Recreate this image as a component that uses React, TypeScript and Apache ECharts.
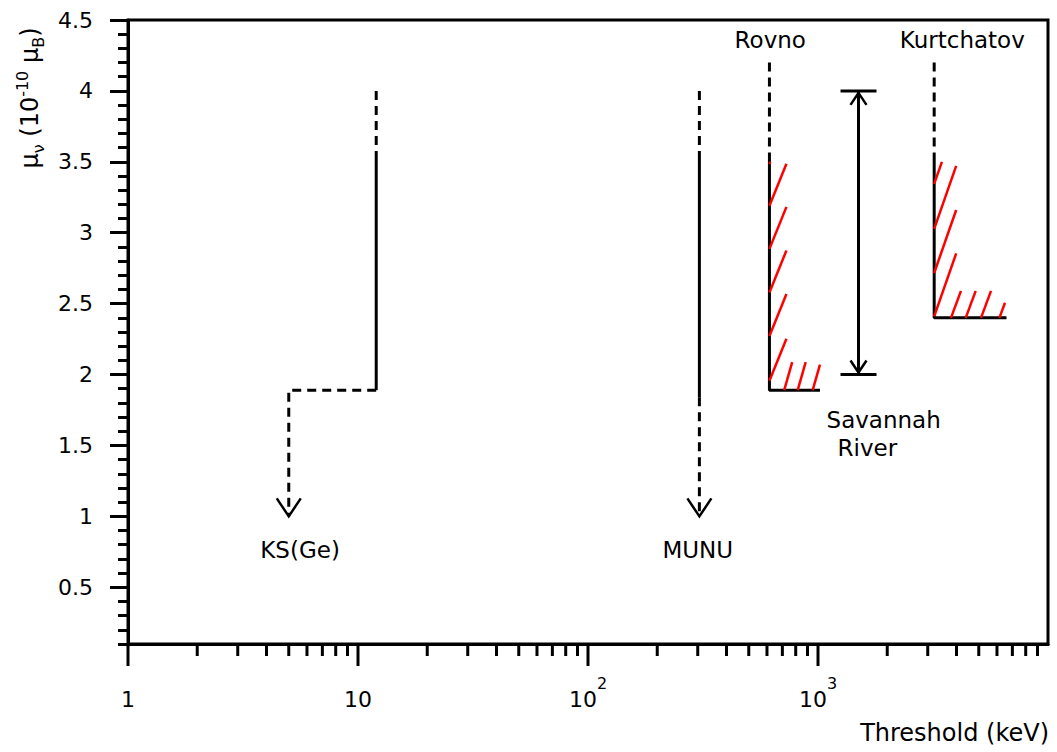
import React, { useEffect, useRef } from 'react';
import * as echarts from 'echarts';

const FONT = 'DejaVu Sans';
const Y_MIN = 0.1;
const Y_MAX = 4.5;
const X_MIN = 1;
const X_MAX = 10000;

// tick values
const yMajorTicks = [0.5, 1, 1.5, 2, 2.5, 3, 3.5, 4, 4.5];
const xMajorTicks = [1, 10, 100, 1000];
const xMinorTicks = [
  2, 3, 4, 5, 6, 7, 8, 9,
  20, 30, 40, 50, 60, 70, 80, 90,
  200, 300, 400, 500, 600, 700, 800, 900,
  2000, 3000, 4000, 5000, 6000, 7000, 8000, 9000,
];

// KS(Ge)
const ksDashedTop = [[12, 4.0], [12, 3.57]];
const ksSolid = [[12, 3.57], [12, 1.89]];
const ksDashedStep = [[12, 1.89], [5, 1.89], [5, 1.0]];
// MUNU
const munuDashedTop = [[305, 4.0], [305, 3.57]];
const munuSolid = [[305, 3.57], [305, 1.84]];
const munuDashedBottom = [[305, 1.84], [305, 1.0]];
// arrow tips of the two upper limits
const limitArrowTips = [[5, 1.0], [305, 1.0]];

// Rovno
const rovnoDashed = [[615, 4.2], [615, 3.52]];
const rovnoSolid = [[615, 3.52], [615, 1.89], [1020, 1.89]];
const rovnoHatchWall = [[615, 3.485], [615, 3.19], [615, 2.886], [615, 2.579], [615, 2.272], [615, 1.956]];
const rovnoHatchFloor = [[713, 1.89], [816, 1.89], [948, 1.89]];

// Kurtchatov
const kurtDashed = [[3200, 4.2], [3200, 3.52]];
const kurtSolid = [[3200, 3.52], [3200, 2.4], [6600, 2.4]];
const kurtHatchWall = [[3200, 3.344], [3200, 3.027], [3200, 2.716], [3200, 2.41]];
const kurtHatchFloor = [[3786, 2.4], [4387, 2.4], [5114, 2.4], [6148, 2.4]];

// Savannah River range [x, low, high]
const savannahRange = [[1500, 2.0, 4.0]];

// annotation labels
const annotationLabels = [
  { name: 'KS(Ge)', value: [5.6, 0.76] },
  { name: 'MUNU', value: [300, 0.76] },
  { name: 'Rovno', value: [620, 4.36] },
  { name: 'Kurtchatov', value: [4240, 4.36] },
  { name: 'Savannah', value: [1930, 1.68] },
  { name: 'River', value: [1640, 1.48] },
];

const BLACK = '#000000';
const RED = '#ff0000';

function lineSeries(data: number[][], dashed: boolean) {
  return {
    type: 'line',
    data,
    symbol: 'none',
    silent: true,
    z: 2,
    lineStyle: { color: BLACK, width: 3, type: dashed ? [9, 6] : 'solid' },
  };
}

function hatchSeries(data: number[][], dx: number, dy: number, clipTop: number, clipRight: number) {
  return {
    type: 'custom',
    data,
    encode: { x: 0, y: 1 },
    silent: true,
    z: 4,
    renderItem: (params: any, api: any) => {
      const p = api.coord([api.value(0), api.value(1)]);
      const topPx = api.coord([api.value(0), clipTop])[1];
      const rightPx = api.coord([clipRight, api.value(1)])[0];
      let t = 1;
      if (p[1] + dy < topPx) t = Math.min(t, (topPx - p[1]) / dy);
      if (p[0] + dx > rightPx) t = Math.min(t, (rightPx - p[0]) / dx);
      return {
        type: 'line',
        shape: { x1: p[0], y1: p[1], x2: p[0] + dx * t, y2: p[1] + dy * t },
        style: { stroke: RED, lineWidth: 2.5 },
      };
    },
  };
}

function xTickSeries(values: number[], len: number) {
  return {
    type: 'custom',
    data: values.map((v) => [v, Y_MIN]),
    encode: { x: 0, y: 1 },
    silent: true,
    clip: false,
    z: 5,
    renderItem: (params: any, api: any) => {
      const p = api.coord([api.value(0), api.value(1)]);
      return {
        type: 'line',
        shape: { x1: p[0], y1: p[1], x2: p[0], y2: p[1] + len },
        style: { stroke: BLACK, lineWidth: 3 },
      };
    },
  };
}

export default function App() {
  const ref = useRef<HTMLDivElement>(null);

  useEffect(() => {
    if (!ref.current) return;
    const chart = echarts.init(ref.current, undefined, { renderer: 'svg' });

    const option: any = {
      animation: false,
      backgroundColor: '#ffffff',
      grid: {
        left: 128,
        right: 9,
        top: 20,
        bottom: 108,
        show: true,
        borderColor: BLACK,
        borderWidth: 3,
        backgroundColor: 'transparent',
      },
      xAxis: {
        type: 'log',
        logBase: 10,
        min: X_MIN,
        max: X_MAX,
        axisLine: { show: true, lineStyle: { color: BLACK, width: 3 } },
        axisTick: { show: false },
        splitLine: { show: false },
        axisLabel: {
          margin: 31,
          color: BLACK,
          fontFamily: FONT,
          fontSize: 22,
          formatter: (v: number) => {
            const e = Math.round(Math.log10(v));
            if (e === 0) return '{b|1}';
            if (e === 1) return '{b|10}';
            if (e >= 4) return '';
            return '{b|10}{sup|' + e + '}';
          },
          rich: {
            b: { fontFamily: FONT, fontSize: 22, color: BLACK, padding: [13, 0, 0, 0], verticalAlign: 'bottom' },
            sup: { fontFamily: FONT, fontSize: 16, color: BLACK, verticalAlign: 'top' },
          },
        },
      },
      yAxis: [
        {
          type: 'value',
          min: Y_MIN,
          max: Y_MAX,
          position: 'left',
          axisLine: { show: true, onZero: false, lineStyle: { color: BLACK, width: 3 } },
          axisTick: { show: true, length: 18, customValues: yMajorTicks, lineStyle: { color: BLACK, width: 3 } },
          axisLabel: { customValues: yMajorTicks, margin: 35, color: BLACK, fontFamily: FONT, fontSize: 22 },
          splitLine: { show: false },
        },
        {
          type: 'value',
          min: Y_MIN,
          max: Y_MAX,
          interval: 0.1,
          position: 'left',
          axisLine: { show: false },
          axisTick: { show: true, length: 10, lineStyle: { color: BLACK, width: 3 } },
          axisLabel: { show: false },
          splitLine: { show: false },
        },
      ],
      graphic: [
        {
          type: 'text',
          x: 30,
          y: 98,
          rotation: Math.PI / 2,
          style: {
            text: '{m|μ}{sub|ν}{m| (10}{sup|-10}{m| μ}{sub|B}{m|)}',
            align: 'center',
            verticalAlign: 'middle',
            fill: BLACK,
            rich: {
              m: { fontFamily: FONT, fontSize: 24, fill: BLACK, padding: [4, 0, 4, 0], verticalAlign: 'middle' },
              sup: { fontFamily: FONT, fontSize: 16, fill: BLACK, verticalAlign: 'top' },
              sub: { fontFamily: FONT, fontSize: 16, fill: BLACK, verticalAlign: 'bottom' },
            },
          },
        },
        {
          type: 'text',
          x: 1049,
          y: 733,
          style: {
            text: 'Threshold (keV)',
            align: 'right',
            verticalAlign: 'middle',
            fill: BLACK,
            fontFamily: FONT,
            fontSize: 24,
          },
        },
      ],
      series: [
        lineSeries(ksDashedTop, true),
        lineSeries(ksSolid, false),
        lineSeries(ksDashedStep, true),
        lineSeries(munuDashedTop, true),
        lineSeries(munuSolid, false),
        lineSeries(munuDashedBottom, true),
        lineSeries(rovnoDashed, true),
        lineSeries(rovnoSolid, false),
        lineSeries(kurtDashed, true),
        lineSeries(kurtSolid, false),
        hatchSeries(rovnoHatchWall, 17, -42, 3.5, 1020),
        hatchSeries(rovnoHatchFloor, 8, -28, 3.5, 1020),
        hatchSeries(kurtHatchWall, 22, -63, 3.5, 6600),
        hatchSeries(kurtHatchFloor, 10, -27, 3.5, 6500),
        {
          type: 'custom',
          data: limitArrowTips,
          encode: { x: 0, y: 1 },
          silent: true,
          z: 3,
          renderItem: (params: any, api: any) => {
            const p = api.coord([api.value(0), api.value(1)]);
            return {
              type: 'polyline',
              shape: { points: [[p[0] - 12, p[1] - 18], [p[0], p[1]], [p[0] + 12, p[1] - 18]] },
              style: { stroke: BLACK, lineWidth: 2.5, fill: 'none' },
            };
          },
        },
        {
          type: 'custom',
          data: savannahRange,
          encode: { x: 0, y: [1, 2] },
          silent: true,
          z: 3,
          renderItem: (params: any, api: any) => {
            const lo = api.coord([api.value(0), api.value(1)]);
            const hi = api.coord([api.value(0), api.value(2)]);
            const cap = 18;
            const aw = 8;
            const ah = 12;
            const st = { stroke: BLACK, lineWidth: 3 };
            const stA = { stroke: BLACK, lineWidth: 2.5, fill: 'none' };
            return {
              type: 'group',
              children: [
                { type: 'line', shape: { x1: lo[0], y1: lo[1], x2: hi[0], y2: hi[1] }, style: st },
                { type: 'line', shape: { x1: hi[0] - cap, y1: hi[1], x2: hi[0] + cap, y2: hi[1] }, style: st },
                { type: 'line', shape: { x1: lo[0] - cap, y1: lo[1], x2: lo[0] + cap, y2: lo[1] }, style: st },
                {
                  type: 'polyline',
                  shape: { points: [[hi[0] - aw, hi[1] + 2 + ah], [hi[0], hi[1] + 2], [hi[0] + aw, hi[1] + 2 + ah]] },
                  style: stA,
                },
                {
                  type: 'polyline',
                  shape: { points: [[lo[0] - aw, lo[1] - 2 - ah], [lo[0], lo[1] - 2], [lo[0] + aw, lo[1] - 2 - ah]] },
                  style: stA,
                },
              ],
            };
          },
        },
        xTickSeries(xMajorTicks, 22),
        xTickSeries(xMinorTicks, 12),
        {
          type: 'scatter',
          data: annotationLabels,
          symbolSize: 1,
          silent: true,
          itemStyle: { color: 'rgba(0,0,0,0)', opacity: 1 },
          label: {
            show: true,
            position: 'inside',
            formatter: '{b}',
            color: BLACK,
            opacity: 1,
            textBorderWidth: 0,
            textBorderColor: 'transparent',
            fontFamily: FONT,
            fontSize: 23,
          },
          z: 6,
        },
      ],
    };

    chart.setOption(option);
    return () => {
      chart.dispose();
    };
  }, []);

  return (
    <div
      ref={ref}
      style={{ position: 'absolute', left: 0, top: 0, width: 1057, height: 752, background: '#ffffff' }}
    />
  );
}
